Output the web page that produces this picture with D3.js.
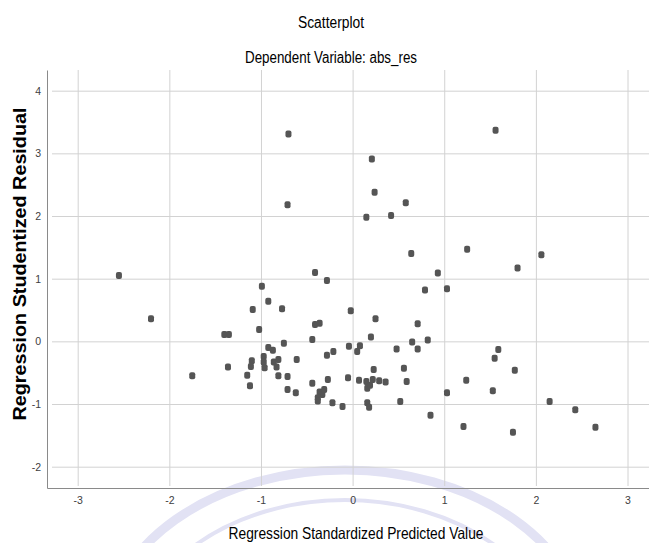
<!DOCTYPE html>
<head>
<meta charset="utf-8">
<style>
body { margin: 0; background: #fff; }
svg { display: block; }
.narrow { font-family: "Liberation Sans Narrow", "Arial Narrow", "Liberation Sans", Arial, sans-serif; }
.tick text { fill: #404040; font-size: 10.5px; }
.grid line { stroke: #d2d2d2; stroke-width: 1; }
.grid path { display: none; }
</style>
</head>
<body>
<div id="chart"></div>
<script src="https://cdn.jsdelivr.net/npm/d3@7"></script>
<script>
// predicted value (x) and studentized residual (y)
var predicted = [
  -0.70, -0.71, 0.21, 0.24, 0.58, 0.15, 0.42, 0.64, -0.41, -0.28,
  1.56, 1.25, 1.80, 2.06, 0.93, -2.55, -2.20, -1.75, -0.99, -0.92,
  -1.09, -0.77, -0.02, 0.25, -0.41, -0.36, -1.02, -1.40, -1.35, -0.44,
  -0.75, 0.20, 0.71, 0.65, 0.71, 0.48, -0.92, -0.87, -0.97, -0.97,
  -0.96, -1.10, -1.11, -0.86, -0.81, -0.83, -0.61, -1.36, -1.15, -1.12,
  -0.81, -0.71, -0.71, -0.62, -0.28, -0.21, -0.04, 0.05, 0.08, -0.44,
  -0.27, -0.05, 0.07, 0.15, 0.22, 0.29, 0.36, 0.23, 0.16, 0.19,
  -0.36, -0.33, -0.38, -0.31, -0.38, -0.22, -0.11, 0.16, 0.18, 0.52,
  0.56, 0.59, 0.79, 1.03, 0.82, 1.59, 1.55, 1.77, 1.24, 1.53,
  1.03, 0.85, 1.21, 1.75, 2.15, 2.43, 2.65
];
var residual = [
  3.31, 2.18, 2.91, 2.38, 2.21, 1.98, 2.01, 1.40, 1.10, 0.97,
  3.37, 1.47, 1.17, 1.38, 1.09, 1.05, 0.36, -0.55, 0.88, 0.64,
  0.51, 0.52, 0.49, 0.36, 0.27, 0.29, 0.19, 0.11, 0.11, 0.03,
  -0.03, 0.07, 0.28, -0.01, -0.12, -0.12, -0.10, -0.14, -0.24, -0.33,
  -0.42, -0.31, -0.40, -0.33, -0.29, -0.41, -0.29, -0.41, -0.54, -0.71,
  -0.55, -0.56, -0.77, -0.82, -0.22, -0.16, -0.08, -0.16, -0.07, -0.67,
  -0.61, -0.58, -0.62, -0.64, -0.61, -0.63, -0.65, -0.45, -0.75, -0.70,
  -0.81, -0.85, -0.90, -0.77, -0.95, -0.98, -1.04, -0.98, -1.05, -0.96,
  -0.43, -0.64, 0.82, 0.84, 0.02, -0.13, -0.27, -0.46, -0.62, -0.79,
  -0.82, -1.18, -1.36, -1.45, -0.96, -1.09, -1.37
];
var xTicks = [-3, -2, -1, 0, 1, 2, 3];
var yTicks = [-2, -1, 0, 1, 2, 3, 4];

var W = 649, H = 543;
var plot = {left: 47, top: 70, right: 666, bottom: 488};

var svg = d3.select("#chart").append("svg")
  .attr("width", W)
  .attr("height", H);

var x = d3.scaleLinear().domain([-3.335, 3.42]).range([plot.left, plot.right]);
var y = d3.scaleLinear().domain([-2.34, 4.33]).range([plot.bottom, plot.top]);
var plain = function (d) { return String(d); };   // hyphen minus, no decimals

// faint watermark arcs at the bottom
var wm = svg.append("g").attr("fill", "none").attr("stroke", "#e2e2f4");
wm.append("ellipse")
  .attr("cx", 345).attr("cy", 640).attr("rx", 240).attr("ry", 170)
  .attr("stroke-width", 9);
wm.append("ellipse")
  .attr("cx", 345).attr("cy", 660).attr("rx", 215).attr("ry", 160)
  .attr("stroke-width", 4);

// grid
svg.append("g")
  .attr("class", "grid")
  .attr("transform", "translate(0," + plot.top + ")")
  .call(d3.axisTop(x).tickValues(xTicks).tickSize(-(plot.bottom - plot.top - 2)).tickFormat(""));
svg.append("g")
  .attr("class", "grid")
  .attr("transform", "translate(" + plot.right + ",0)")
  .call(d3.axisRight(y).tickValues(yTicks).tickSize(-(plot.right - plot.left - 5)).tickFormat(""));

// axes
var xAxis = svg.append("g")
  .attr("class", "narrow")
  .attr("transform", "translate(0," + plot.bottom + ")")
  .call(d3.axisBottom(x).tickValues(xTicks).tickFormat(plain).tickSize(0).tickPadding(9).tickSizeOuter(0));
var yAxis = svg.append("g")
  .attr("class", "narrow")
  .attr("transform", "translate(" + plot.left + ",0)")
  .call(d3.axisLeft(y).tickValues(yTicks).tickFormat(plain).tickSize(0).tickPadding(6).tickSizeOuter(0));
xAxis.select(".domain").attr("stroke", "#8a8a8a");
yAxis.select(".domain").attr("stroke", "#8a8a8a");

// points
svg.append("g")
  .selectAll("rect")
  .data(predicted.map(function (d, i) { return [d, residual[i]]; }))
  .enter()
  .append("rect")
    .attr("x", function (d) { return x(d[0]) - 3; })
    .attr("y", function (d) { return y(d[1]) - 3.5; })
    .attr("width", 6)
    .attr("height", 7)
    .attr("rx", 2)
    .attr("fill", "#555");

// titles
svg.append("text")
  .attr("class", "narrow")
  .attr("x", 331).attr("y", 28)
  .attr("text-anchor", "middle")
  .attr("font-size", 16)
  .attr("textLength", 66).attr("lengthAdjust", "spacingAndGlyphs")
  .text("Scatterplot");
svg.append("text")
  .attr("class", "narrow")
  .attr("x", 331).attr("y", 62.5)
  .attr("text-anchor", "middle")
  .attr("font-size", 16)
  .attr("textLength", 172).attr("lengthAdjust", "spacingAndGlyphs")
  .text("Dependent Variable: abs_res");
svg.append("text")
  .attr("class", "narrow")
  .attr("x", 356).attr("y", 539)
  .attr("text-anchor", "middle")
  .attr("font-size", 16.5)
  .attr("textLength", 255).attr("lengthAdjust", "spacingAndGlyphs")
  .text("Regression Standardized Predicted Value");
svg.append("text")
  .attr("transform", "translate(26,264) rotate(-90)")
  .attr("text-anchor", "middle")
  .attr("font-family", "Liberation Sans, Arial, sans-serif")
  .attr("font-weight", "bold")
  .attr("font-size", 18)
  .attr("textLength", 313).attr("lengthAdjust", "spacingAndGlyphs")
  .text("Regression Studentized Residual");
</script>
</body>
